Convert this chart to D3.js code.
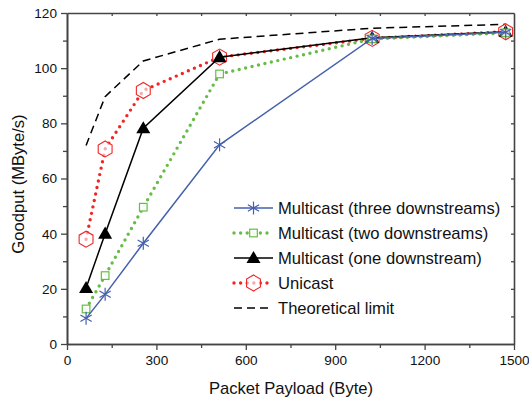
<!DOCTYPE html>
<html>
<head>
<meta charset="utf-8">
<script src="https://cdn.jsdelivr.net/npm/d3@7.9.0/dist/d3.min.js"></script>
<style>
  body { margin: 0; background: #fff; }
  svg { display: block; font-family: "Liberation Sans", Arial, sans-serif; }
</style>
</head>
<body>
<svg width="529" height="399"></svg>
<script>
// packet payload sizes (Byte)
const payloads = [64, 128, 256, 512, 1024, 1472];

// goodput (MByte/s) for each configuration
const multicastThree = [9.3, 18, 36.5, 72.2, 110.8, 113];
const multicastTwo = [12.7, 24.8, 49.6, 97.9, 110.6, 112.8];
const multicastOne = [20.3, 40, 78.2, 104, 111, 113.2];
const unicast = [38, 70.7, 91.9, 104, 110.8, 113.2];
const theoretical = [72, 89.7, 102.6, 110.5, 114.5, 115.9];

const xTicks = [0, 300, 600, 900, 1200, 1500];
const yTicks = [0, 20, 40, 60, 80, 100, 120];

const seriesNames = [
  'Multicast (three downstreams)',
  'Multicast (two downstreams)',
  'Multicast (one downstream)',
  'Unicast',
  'Theoretical limit'
];

const svg = d3.select('svg');
const x = d3.scaleLinear().domain([0, 1500]).range([67, 514]);
const y = d3.scaleLinear().domain([0, 120]).range([344, 13]);

const axisColor = '#444';

// minor ticks
const xMinor = d3.range(150, 1500, 300);
const yMinor = d3.range(10, 120, 20);

function styleAxis(g) {
  g.select('.domain').attr('stroke', axisColor).attr('stroke-width', 1.6);
  g.selectAll('.tick line').attr('stroke', axisColor).attr('stroke-width', 1.3);
  g.selectAll('.tick text').attr('fill', '#111').style('font-size', '13.6px');
}

// bottom axis
svg.append('g')
  .attr('transform', 'translate(0,344)')
  .call(d3.axisBottom(x).tickValues(xTicks).tickFormat(d3.format('d')).tickSize(6).tickPadding(5).tickSizeOuter(0))
  .call(styleAxis);
svg.append('g')
  .attr('transform', 'translate(0,344)')
  .call(d3.axisBottom(x).tickValues(xMinor).tickSize(4).tickFormat('').tickSizeOuter(0))
  .call(styleAxis);

// left axis
svg.append('g')
  .attr('transform', 'translate(67,0)')
  .call(d3.axisLeft(y).tickValues(yTicks).tickFormat(d3.format('d')).tickSize(6).tickPadding(4).tickSizeOuter(0))
  .call(styleAxis);
svg.append('g')
  .attr('transform', 'translate(67,0)')
  .call(d3.axisLeft(y).tickValues(yMinor).tickSize(4).tickFormat('').tickSizeOuter(0))
  .call(styleAxis);

// top and right mirror axes, ticks pointing in
svg.append('g')
  .attr('transform', 'translate(0,13)')
  .call(d3.axisBottom(x).tickValues(d3.range(150, 1500, 150)).tickSize(3).tickFormat('').tickSizeOuter(0))
  .call(styleAxis);
svg.append('g')
  .attr('transform', 'translate(514,0)')
  .call(d3.axisLeft(y).tickValues(d3.range(10, 120, 10)).tickSize(3).tickFormat('').tickSizeOuter(0))
  .call(styleAxis);

// axis titles
svg.append('text')
  .attr('x', 291).attr('y', 394)
  .attr('text-anchor', 'middle')
  .style('font-size', '16.6px')
  .attr('fill', '#111')
  .text('Packet Payload (Byte)');
svg.append('text')
  .attr('transform', 'translate(24,184) rotate(-90)')
  .attr('text-anchor', 'middle')
  .style('font-size', '16.6px')
  .attr('fill', '#111')
  .text('Goodput (MByte/s)');

const blue = '#4560ad';
const green = '#66bd45';
const red = '#f02626';

const line = d3.line().x((d, i) => x(payloads[i])).y(d => y(d));

// marker drawers
function star(g, cx, cy) {
  const r = 6.5;
  [90, 30, 150].forEach(a => {
    const dx = r * Math.cos(a * Math.PI / 180), dy = r * Math.sin(a * Math.PI / 180);
    g.append('line')
      .attr('x1', cx - dx).attr('y1', cy - dy)
      .attr('x2', cx + dx).attr('y2', cy + dy)
      .attr('stroke', blue).attr('stroke-width', 1.2);
  });
}
function square(g, cx, cy) {
  g.append('rect')
    .attr('x', cx - 3.8).attr('y', cy - 3.8)
    .attr('width', 7.6).attr('height', 7.6)
    .attr('fill', 'white').attr('fill-opacity', 0.9)
    .attr('stroke', green).attr('stroke-width', 1.2);
}
function triangle(g, cx, cy) {
  g.append('path')
    .attr('d', d3.symbol().type(d3.symbolTriangle).size(85)())
    .attr('transform', `translate(${cx},${cy + 1})`)
    .attr('fill', '#000');
}
function hexagon(g, cx, cy) {
  const r = 8;
  const pts = d3.range(6).map(k => {
    const a = Math.PI / 2 + k * Math.PI / 3;
    return [cx + r * Math.cos(a), cy + r * Math.sin(a)];
  });
  g.append('polygon')
    .attr('points', pts.map(p => p.join(',')).join(' '))
    .attr('fill', 'white').attr('fill-opacity', 0.6)
    .attr('stroke', red).attr('stroke-width', 1.1);
}

const series = [
  { values: theoretical, color: '#000', width: 1.5, dash: '8,5', cap: 'butt', marker: null },
  { values: unicast, color: red, width: 3.4, dash: '0,6.6', cap: 'round', marker: hexagon },
  { values: multicastOne, color: '#000', width: 1.5, dash: null, cap: 'butt', marker: triangle },
  { values: multicastTwo, color: green, width: 3.4, dash: '0,6.6', cap: 'round', marker: square },
  { values: multicastThree, color: blue, width: 1.5, dash: null, cap: 'butt', marker: star }
];

series.forEach(s => {
  const g = svg.append('g');
  g.append('path')
    .attr('d', line(s.values))
    .attr('fill', 'none')
    .attr('stroke', s.color)
    .attr('stroke-width', s.width)
    .attr('stroke-dasharray', s.dash)
    .attr('stroke-linecap', s.cap);
  if (s.marker) {
    s.values.forEach((v, i) => s.marker(g, x(payloads[i]), y(v)));
  }
});

// legend
const legendOrder = [4, 3, 2, 1, 0];
const legend = svg.append('g');
legendOrder.forEach((si, i) => {
  const s = series[si];
  const ly = 208 + i * 25;
  const g = legend.append('g');
  g.append('line')
    .attr('x1', 234).attr('x2', 273)
    .attr('y1', ly).attr('y2', ly)
    .attr('stroke', s.color)
    .attr('stroke-width', s.width)
    .attr('stroke-dasharray', s.dash)
    .attr('stroke-linecap', s.cap);
  if (s.marker) s.marker(g, 253.5, ly);
  g.append('text')
    .attr('x', 278).attr('y', ly + 5.5)
    .style('font-size', '16.6px')
    .attr('fill', '#111')
    .text(seriesNames[i]);
});
</script>
</body>
</html>
